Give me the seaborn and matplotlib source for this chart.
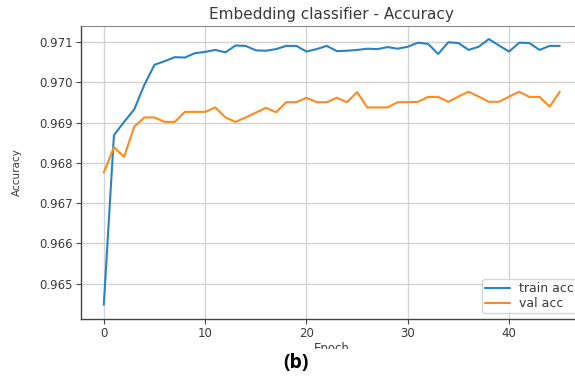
import numpy as np
import pandas as pd
import matplotlib
matplotlib.use("Agg")
import matplotlib.pyplot as plt
import seaborn as sns
from matplotlib.patches import Rectangle

epochs = list(range(46))
train_acc = [0.96447, 0.96869, 0.96902, 0.96933, 0.96994, 0.97044, 0.97053, 0.97063,
             0.97062, 0.97073, 0.97076, 0.97081, 0.97075, 0.97092, 0.97091, 0.97080,
             0.97079, 0.97083, 0.97091, 0.97091, 0.97077, 0.97083, 0.97091, 0.97078,
             0.97079, 0.97081, 0.97084, 0.97083, 0.97088, 0.97084, 0.97089, 0.97099,
             0.97096, 0.97071, 0.97100, 0.97098, 0.97081, 0.97089, 0.97108, 0.97092,
             0.97077, 0.97099, 0.97098, 0.97081, 0.97091, 0.97091]
val_acc = [0.96776, 0.96839, 0.96815, 0.96890, 0.96913, 0.96913, 0.96902, 0.96902,
           0.96927, 0.96927, 0.96927, 0.96938, 0.96913, 0.96902, 0.96913, 0.96925,
           0.96937, 0.96926, 0.96951, 0.96951, 0.96962, 0.96951, 0.96951, 0.96962,
           0.96951, 0.96976, 0.96938, 0.96938, 0.96938, 0.96951, 0.96951, 0.96952,
           0.96964, 0.96964, 0.96952, 0.96965, 0.96977, 0.96965, 0.96952, 0.96952,
           0.96965, 0.96977, 0.96964, 0.96964, 0.96940, 0.96977]
series_names = ["train acc", "val acc"]
title = "Embedding classifier - Accuracy"
panel_label = "(b)"
ytick_vals = [0.965, 0.966, 0.967, 0.968, 0.969, 0.970, 0.971]
xtick_vals = [0, 10, 20, 30, 40]

df = pd.DataFrame({
    "Epoch": epochs * 2,
    "Accuracy": train_acc + val_acc,
    "series": [series_names[0]] * len(epochs) + [series_names[1]] * len(epochs),
})

sns.set_style("white")
plt.rcParams["font.family"] = ["DejaVu Sans"]

fig = plt.figure(figsize=(5.75, 3.76), dpi=100)
ax = fig.add_axes([81 / 575, 1 - 318.9 / 376, (582.6 - 81) / 575, (318.9 - 25.8) / 376])

sns.lineplot(data=df, x="Epoch", y="Accuracy", hue="series",
             palette=["#2a83c0", "#ff8a1f"], linewidth=1.5, ax=ax)

ax.set_xlim(-2.25, 47.25)
ax.set_ylim(0.96412, 0.97141)
ax.set_xticks(xtick_vals)
ax.set_yticks(ytick_vals)
ax.set_yticklabels([f"{v:.3f}" for v in ytick_vals])
ax.grid(True, color="#d3d3d3", linewidth=1.0)
ax.set_axisbelow(True)

txt = "#3a3a3a"
ax.tick_params(axis="both", direction="out", length=3.5, width=0.8, color="#444444",
               labelcolor=txt, labelsize=8.5, bottom=True, left=True, pad=2.5)
for s in ["left", "bottom"]:
    ax.spines[s].set_color("#444444")
    ax.spines[s].set_linewidth(1.0)
ax.spines["top"].set_color("#888888")
ax.spines["right"].set_visible(False)

ax.set_title(title, fontsize=11, color=txt, pad=5)
ax.set_xlabel("Epoch", fontsize=8.5, color=txt, labelpad=1)
ax.set_ylabel("Accuracy", fontsize=7.5, color=txt, labelpad=12)

leg = ax.legend(loc="lower right", fontsize=9, frameon=True, title=None,
                labelspacing=0.15, borderpad=0.25, handlelength=2.0,
                handletextpad=0.7, borderaxespad=0.45)
leg.get_frame().set_edgecolor("#cccccc")
for t in leg.get_texts():
    t.set_color(txt)

# white strip over bottom, with panel label
fig.patches.append(Rectangle((0, 0), 1, 1 - 349 / 376, transform=fig.transFigure,
                             facecolor="white", edgecolor="none", zorder=10))
fig.text(296 / 575, 1 - 363 / 376, panel_label, ha="center", va="center",
         fontsize=14, fontweight="bold", color="black",
         family=["Open Sans", "DejaVu Sans"], zorder=11)

fig.savefig("out.png", dpi=100)
